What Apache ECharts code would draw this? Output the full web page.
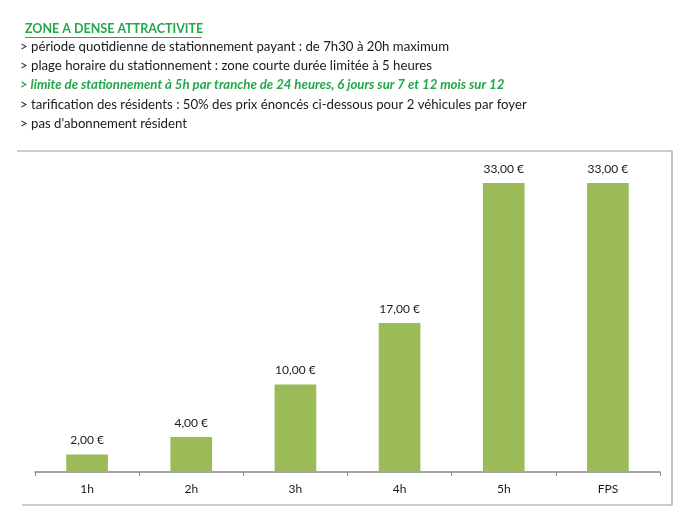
<!DOCTYPE html>
<html><head><meta charset="utf-8">
<script src="https://cdn.jsdelivr.net/npm/echarts@6/dist/echarts.min.js"></script>
<style>html,body{margin:0;padding:0;background:#fff}#c{width:700px;height:525px}</style>
</head><body><div id="c"></div>
<script>
const categories = ['1h', '2h', '3h', '4h', '5h', 'FPS'];
const prices = [2, 4, 10, 17, 33, 33];
const heading = 'ZONE A DENSE ATTRACTIVITE';
const notes = [
  '> période quotidienne de stationnement payant : de 7h30 à 20h maximum',
  '> plage horaire du stationnement : zone courte durée limitée à 5 heures',
  '> limite de stationnement à 5h par tranche de 24 heures, 6 jours sur 7 et 12 mois sur 12',
  '> tarification des résidents : 50% des prix énoncés ci-dessous pour 2 véhicules par foyer',
  "> pas d'abonnement résident"
];
const highlighted = 2;

const FONT = 'Lato';
const green = '#22a84a';
const noteY = [48, 67, 86, 106, 125];

const graphics = [
  {type:'text', left:25, top:22, style:{text:heading, fill:green, font:'bold 12.5px ' + FONT}},
  {type:'line', shape:{x1:25, y1:37.5, x2:202, y2:37.5}, style:{stroke:green, lineWidth:1}},
  {type:'polyline', shape:{points:[[17,151],[672,151],[672,505],[22,505]]}, style:{stroke:'#9a9a9a', lineWidth:1.2, fill:null}}
];
notes.forEach((t, i) => {
  graphics.push({type:'text', left:20, top:noteY[i] - 8, style:{
    text:t, fill: i === highlighted ? green : '#1a1a1a',
    font: (i === highlighted ? 'italic bold ' : '') + '13.2px ' + FONT}});
});

const chart = echarts.init(document.getElementById('c'));
chart.setOption({
  animation:false,
  grid:{left:35, right:40, top:165.4, bottom:53},
  xAxis:{type:'category', data:categories,
    axisLine:{lineStyle:{color:'#888', width:1.5}},
    axisTick:{show:true, length:4, lineStyle:{color:'#888'}},
    axisLabel:{color:'#1a1a1a', fontFamily:FONT, fontSize:12, margin:11}},
  yAxis:{type:'value', min:0, max:35, show:false},
  series:[{type:'bar', data:prices, barWidth:'40%',
    itemStyle:{color:'#9bbb59'},
    label:{show:true, position:'top', distance:8, color:'#1a1a1a', fontFamily:FONT, fontSize:12,
      formatter:p => p.value.toFixed(2).replace('.', ',') + ' €'}}],
  graphic:graphics
});
</script></body></html>
